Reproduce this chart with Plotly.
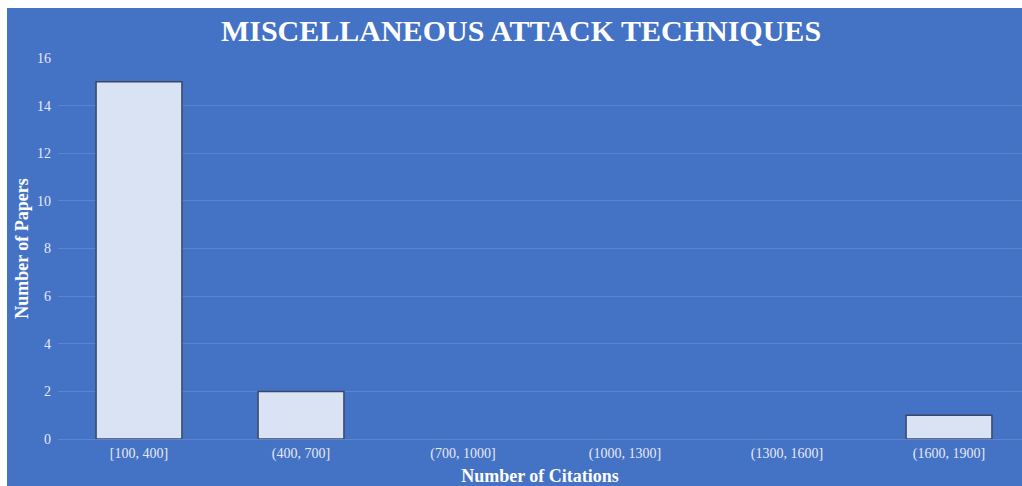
import plotly.graph_objects as go

# Citation bins and paper counts
citation_bins = ["[100, 400]", "(400, 700]", "(700, 1000]", "(1000, 1300]", "(1300, 1600]", "(1600, 1900]"]
paper_counts = [15, 2, 0, 0, 0, 1]
y_ticks = [0, 2, 4, 6, 8, 10, 12, 14, 16]

W, H = 1022, 486
ML, MT, MB, MR = 58, 58, 47, 0
PW, PH = W - ML - MR, H - MT - MB

BG = "#4472C4"
SERIF = "Liberation Serif, Times New Roman, serif"


def px_x(px):
    return (px - ML) / PW


def px_y(py):
    return (H - MB - py) / PH


# empty bins get no outline so nothing is drawn at zero height
outline_widths = [1.5 if v > 0 else 0 for v in paper_counts]

fig = go.Figure(
    go.Bar(
        x=citation_bins,
        y=paper_counts,
        marker=dict(color="#DAE3F3", line=dict(color="#3A4866", width=outline_widths)),
        width=0.53,
    )
)

fig.update_layout(
    width=W,
    height=H,
    margin=dict(l=ML, r=MR, t=MT, b=MB, pad=0),
    paper_bgcolor=BG,
    plot_bgcolor=BG,
    showlegend=False,
    font=dict(family=SERIF, color="#E6EAF4", size=14),
    title=dict(
        text="<b>MISCELLANEOUS ATTACK TECHNIQUES</b>",
        font=dict(family=SERIF, size=30, color="#FFFFFF"),
        x=px_x(521), xref="paper", xanchor="center",
        y=1 - 30 / H, yref="container", yanchor="middle",
    ),
    xaxis=dict(
        range=[-0.5, 5.5 - 8 / 162],
        showgrid=False,
        zeroline=False,
        showline=False,
        ticks="",
        ticklabelstandoff=4,
        tickfont=dict(family=SERIF, size=14, color="#E6EAF4"),
        title=dict(text="<b>Number of Citations</b>",
                   font=dict(family=SERIF, size=18, color="#FFFFFF"),
                   standoff=12),
    ),
    yaxis=dict(
        range=[0, 16],
        tickvals=y_ticks,
        showgrid=True,
        gridcolor="rgba(255,255,255,0.14)",
        gridwidth=1,
        zeroline=True,
        zerolinecolor="rgba(255,255,255,0.14)",
        zerolinewidth=1,
        showline=False,
        ticks="",
        ticklabelstandoff=6,
        tickfont=dict(family=SERIF, size=14, color="#E6EAF4"),
        title=dict(text="<b>Number of Papers</b>",
                   font=dict(family=SERIF, size=18, color="#FFFFFF"),
                   standoff=3),
    ),
    shapes=[
        # white strips along the top and left edges of the page
        dict(type="rect", xref="paper", yref="paper",
             x0=px_x(0), x1=px_x(7), y0=px_y(H + 2), y1=px_y(-2),
             fillcolor="#FFFFFF", line=dict(width=0), layer="above"),
        dict(type="rect", xref="paper", yref="paper",
             x0=px_x(-2), x1=px_x(W + 2), y0=px_y(8), y1=px_y(-2),
             fillcolor="#FFFFFF", line=dict(width=0), layer="above"),
    ],
)

fig.write_html("out.html")
